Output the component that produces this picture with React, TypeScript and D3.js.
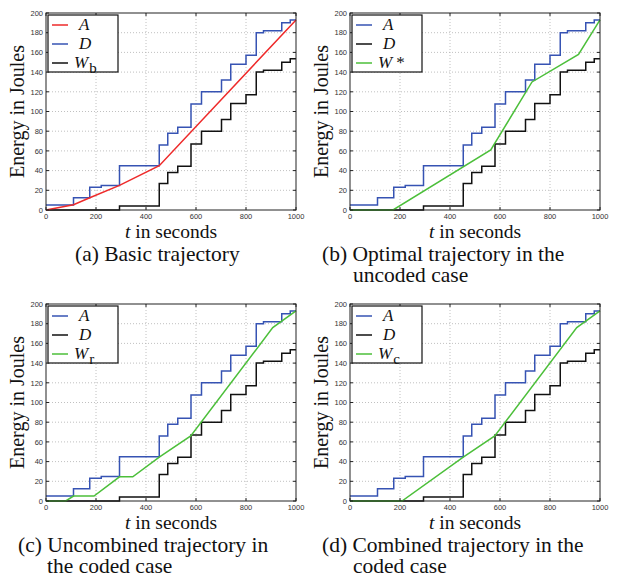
import React, { useEffect, useRef } from "react";
import * as d3 from "d3";

// step breakpoints (seconds) and levels (Joules)
const upperTimes = [0, 110, 175, 221, 294, 453, 487, 527, 580, 622, 702, 739, 800, 841, 870, 943, 977, 1000];
const upperLevels = [5, 12.5, 23, 25, 45, 66, 78, 84, 107.5, 120, 132, 148, 157, 180, 182, 190, 193];
const lowerTimes = [0, 294, 453, 487, 527, 580, 622, 702, 739, 800, 841, 870, 943, 977, 1000];
const lowerLevels = [0, 4, 27, 38, 44.5, 67, 80, 92, 108, 117, 140, 142, 150, 153.5];

const basicT = [0, 110, 175, 294, 453, 1000];
const basicE = [0, 5.4, 12.5, 25, 45, 193];
const optimalT = [0, 172, 563, 728, 914, 1000];
const optimalE = [0, 0, 61, 130, 158, 193];
const uncombT = [0, 79, 110, 192, 294, 347, 453, 579, 907, 1000];
const uncombE = [0, 0, 5, 5, 24.5, 24.5, 44.5, 66, 176, 193];
const combT = [0, 208, 453, 579, 907, 1000];
const combE = [0, 0, 44.5, 66, 176, 193];

const xTicks = [0, 200, 400, 600, 800, 1000];
const yTicks = [0, 20, 40, 60, 80, 100, 120, 140, 160, 180, 200];

const RED = "#ee2a2a";
const BLUE = "#3653b3";
const BLACK = "#111111";
const GREEN = "#4cbf3a";
const SERIF = "Liberation Serif, Times New Roman, serif";

type Pt = [number, number];
const steps = (t: number[], v: number[]): Pt[] => [...v.map((e, i) => [t[i], e] as Pt), [t[t.length - 1], v[v.length - 1]]];
const zipPts = (t: number[], v: number[]): Pt[] => t.map((d, i) => [d, v[i]] as Pt);

const upper = steps(upperTimes, upperLevels);
const lower = steps(lowerTimes, lowerLevels);

type Series = { pts: Pt[]; step: boolean; color: string; name: string; sub?: string; sup?: string };

const panels = [
  {
    left: 46, top: 13,
    caption: [["(a) Basic trajectory", 75]],
    series: [
      { pts: upper, step: true, color: BLUE, name: "D" },
      { pts: lower, step: true, color: BLACK, name: "W", sub: "b" },
      { pts: zipPts(basicT, basicE), step: false, color: RED, name: "A" },
    ],
  },
  {
    left: 350, top: 13,
    caption: [["(b) Optimal trajectory in the", 322], ["uncoded case", 353]],
    series: [
      { pts: upper, step: true, color: BLUE, name: "A" },
      { pts: lower, step: true, color: BLACK, name: "D" },
      { pts: zipPts(optimalT, optimalE), step: false, color: GREEN, name: "W", sup: "*" },
    ],
  },
  {
    left: 46, top: 304,
    caption: [["(c) Uncombined trajectory in", 18], ["the coded case", 47]],
    series: [
      { pts: upper, step: true, color: BLUE, name: "A" },
      { pts: lower, step: true, color: BLACK, name: "D" },
      { pts: zipPts(uncombT, uncombE), step: false, color: GREEN, name: "W", sub: "r" },
    ],
  },
  {
    left: 350, top: 304,
    caption: [["(d) Combined trajectory in the", 322], ["coded case", 353]],
    series: [
      { pts: upper, step: true, color: BLUE, name: "A" },
      { pts: lower, step: true, color: BLACK, name: "D" },
      { pts: zipPts(combT, combE), step: false, color: GREEN, name: "W", sub: "c" },
    ],
  },
];

const W = 250;
const H = 197;

const App = () => {
  const ref = useRef<SVGSVGElement>(null);

  useEffect(() => {
    const svg = d3.select(ref.current);
    svg.selectAll("*").remove();

    panels.forEach((p, pi) => {
      const x = d3.scaleLinear().domain([0, 1000]).range([0, W]);
      const y = d3.scaleLinear().domain([0, 200]).range([H, 0]);
      const g = svg.append("g").attr("transform", `translate(${p.left},${p.top})`);

      // grid
      g.selectAll("line.gx").data(xTicks.slice(1, -1)).join("line")
        .attr("x1", (d) => x(d)).attr("x2", (d) => x(d)).attr("y1", 0).attr("y2", H)
        .attr("stroke", "#b0b0b0").attr("stroke-width", 0.8).attr("stroke-dasharray", "1,2");
      g.selectAll("line.gy").data(yTicks.slice(1, -1)).join("line")
        .attr("x1", 0).attr("x2", W).attr("y1", (d) => y(d)).attr("y2", (d) => y(d))
        .attr("stroke", "#b0b0b0").attr("stroke-width", 0.8).attr("stroke-dasharray", "1,2");

      // series
      const lineStep = d3.line<Pt>().x((d) => x(d[0])).y((d) => y(d[1])).curve(d3.curveStepAfter);
      const lineLin = d3.line<Pt>().x((d) => x(d[0])).y((d) => y(d[1]));
      p.series.forEach((s: Series) => {
        g.append("path").attr("d", (s.step ? lineStep : lineLin)(s.pts) as string)
          .attr("fill", "none").attr("stroke", s.color).attr("stroke-width", 1.5);
      });

      // frame and ticks
      g.append("rect").attr("width", W).attr("height", H).attr("fill", "none").attr("stroke", "#222").attr("stroke-width", 1);
      xTicks.forEach((t) => {
        g.append("line").attr("x1", x(t)).attr("x2", x(t)).attr("y1", H).attr("y2", H - 3).attr("stroke", "#222");
        g.append("line").attr("x1", x(t)).attr("x2", x(t)).attr("y1", 0).attr("y2", 3).attr("stroke", "#222");
        g.append("text").attr("x", x(t)).attr("y", H + 9).attr("text-anchor", "middle")
          .attr("font-family", "Liberation Sans, Arial, sans-serif").attr("font-size", 7.5).attr("fill", "#333").text(t);
      });
      yTicks.forEach((t) => {
        g.append("line").attr("x1", 0).attr("x2", 3).attr("y1", y(t)).attr("y2", y(t)).attr("stroke", "#222");
        g.append("line").attr("x1", W).attr("x2", W - 3).attr("y1", y(t)).attr("y2", y(t)).attr("stroke", "#222");
        g.append("text").attr("x", -3).attr("y", y(t) + 2.7).attr("text-anchor", "end")
          .attr("font-family", "Liberation Sans, Arial, sans-serif").attr("font-size", 7.5).attr("fill", "#333").text(t);
      });

      // legend
      const leg = g.append("g").attr("transform", "translate(2,2)");
      leg.append("rect").attr("width", 70).attr("height", 57).attr("fill", "white").attr("stroke", "#111").attr("stroke-width", 1.2);
      const order = pi === 0 ? [2, 0, 1] : [0, 1, 2];
      order.forEach((si, i) => {
        const s = p.series[si] as Series;
        const cy = 10 + i * 19;
        leg.append("line").attr("x1", 4).attr("x2", 20).attr("y1", cy).attr("y2", cy).attr("stroke", s.color).attr("stroke-width", 1.5);
        const tx = leg.append("text").attr("x", s.name === "W" ? 26 : 31).attr("y", cy + 5)
          .attr("font-family", SERIF).attr("font-size", 17).attr("font-style", "italic").attr("fill", "#111");
        tx.append("tspan").text(s.name);
        if (s.sub) tx.append("tspan").attr("font-style", "normal").attr("font-size", 15).attr("dy", 5).attr("dx", 1).text(s.sub);
        if (s.sup) tx.append("tspan").attr("font-style", "normal").attr("font-size", 17).attr("dx", 4).text("*");
      });

      // axis labels
      svg.append("text").attr("transform", `translate(${p.left - 22},${p.top + H / 2}) rotate(-90)`).attr("text-anchor", "middle")
        .attr("font-family", SERIF).attr("font-size", 20).attr("fill", "#111").text("Energy in Joules");
      const xl = svg.append("text").attr("x", p.left + W / 2).attr("y", p.top + H + 28).attr("text-anchor", "middle")
        .attr("font-family", SERIF).attr("font-size", 19.5).attr("fill", "#111");
      xl.append("tspan").attr("font-style", "italic").text("t");
      xl.append("tspan").text(" in seconds");

      // caption
      p.caption.forEach(([c, cx], ci) => {
        svg.append("text").attr("x", cx as number).attr("y", p.top + H + 51 + ci * 20.5)
          .attr("font-family", SERIF).attr("font-size", 21.5).attr("fill", "#111").text(c as string);
      });
    });
  }, []);

  return (
    <svg ref={ref} width={619} height={576} style={{ position: "absolute", left: 0, top: 0, background: "white" }} />
  );
};

export default App;
